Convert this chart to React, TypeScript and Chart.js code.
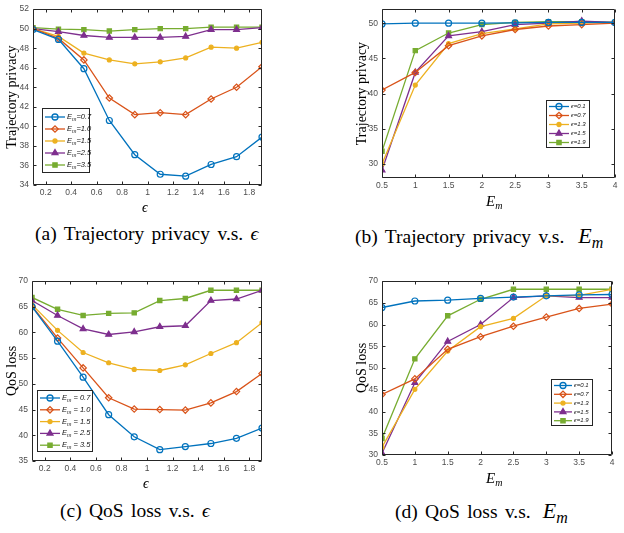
import React, { useEffect, useRef } from 'react';
import { Chart, registerables } from 'chart.js';
import { drawPoint } from 'chart.js/helpers';
Chart.register(...registerables);

// ---------------- data ----------------
const epsilonValues = [0.1, 0.3, 0.5, 0.7, 0.9, 1.1, 1.3, 1.5, 1.7, 1.9];
const emValues = [0.5, 1, 1.5, 2, 2.5, 3, 3.5, 4];

const emSeriesNames = ['0.7', '1.0', '1.5', '2.5', '3.5'];
const epsSeriesNames = ['0.1', '0.7', '1.3', '1.5', '1.9'];

const epsTicks = [0.2, 0.4, 0.6, 0.8, 1, 1.2, 1.4, 1.6, 1.8];
const epsTickLabels = ['0.2', '0.4', '0.6', '0.8', '1', '1.2', '1.4', '1.6', '1.8'];
const emTicks = [0.5, 1, 1.5, 2, 2.5, 3, 3.5, 4];
const emTickLabels = ['0.5', '1', '1.5', '2', '2.5', '3', '3.5', '4'];

const privacyTicksA = [34, 36, 38, 40, 42, 44, 46, 48, 50, 52];
const privacyTicksB = [30, 35, 40, 45, 50];
const qosTicksC = [35, 40, 45, 50, 55, 60, 65, 70];
const qosTicksD = [30, 35, 40, 45, 50, 55, 60, 65, 70];

// (a) Trajectory privacy vs epsilon
const privEpsEm07 = [49.9, 48.9, 45.9, 40.6, 37.1, 35.1, 34.9, 36.1, 36.9, 38.9];
const privEpsEm10 = [50.0, 49.0, 46.8, 42.9, 41.2, 41.4, 41.2, 42.8, 44.0, 46.1];
const privEpsEm15 = [50.0, 49.2, 47.5, 46.8, 46.4, 46.6, 47.0, 48.1, 48.0, 48.6];
const privEpsEm25 = [50.0, 49.7, 49.3, 49.1, 49.1, 49.1, 49.2, 49.9, 49.9, 50.1];
const privEpsEm35 = [50.1, 49.95, 49.9, 49.75, 49.9, 50.0, 50.0, 50.15, 50.15, 50.15];
// (b) Trajectory privacy vs E_m
const privEmEps01 = [49.9, 50.0, 50.0, 50.0, 50.05, 50.1, 50.1, 50.1];
const privEmEps07 = [40.5, 43.0, 46.8, 48.2, 49.1, 49.6, 49.8, 50.0];
const privEmEps13 = [30.0, 41.2, 47.1, 48.5, 49.2, 49.9, 50.0, 50.1];
const privEmEps15 = [29.1, 43.0, 48.2, 48.8, 49.8, 50.0, 50.3, 50.1];
const privEmEps19 = [31.8, 46.1, 48.6, 49.8, 50.1, 50.2, 50.2, 50.1];
// (c) QoS loss vs epsilon
const qosEpsEm07 = [65.0, 58.3, 51.3, 44.0, 39.7, 37.2, 37.8, 38.4, 39.4, 41.4];
const qosEpsEm10 = [65.1, 58.9, 53.1, 47.3, 45.1, 45.0, 44.9, 46.3, 48.5, 52.0];
const qosEpsEm15 = [65.4, 60.4, 56.1, 54.1, 52.8, 52.6, 53.7, 55.9, 58.0, 61.9];
const qosEpsEm25 = [66.2, 63.3, 60.7, 59.6, 60.1, 61.1, 61.3, 66.2, 66.5, 68.2];
const qosEpsEm35 = [66.8, 64.5, 63.3, 63.7, 63.8, 66.2, 66.6, 68.2, 68.2, 68.2];
// (d) QoS loss vs E_m
const qosEmEps01 = [63.9, 65.4, 65.6, 66.0, 66.3, 66.6, 66.8, 66.9];
const qosEmEps07 = [43.9, 47.5, 54.3, 57.2, 59.6, 61.7, 63.7, 64.7];
const qosEmEps13 = [31.8, 45.1, 53.9, 59.5, 61.4, 66.6, 66.7, 68.1];
const qosEmEps15 = [30.4, 46.6, 56.1, 60.0, 66.2, 66.6, 66.2, 66.2];
const qosEmEps19 = [33.8, 52.1, 62.0, 65.8, 68.1, 68.1, 68.1, 68.1];

// ---------------- styles ----------------
const seriesColors = ['#0072BD', '#D95319', '#EDB120', '#7E2F8E', '#77AC30'];
const seriesMarkers = ['circle', 'rectRot', 'circle', 'triangle', 'rect'];
const seriesRadius = [3, 3.2, 2, 3.4, 3];
const seriesFilled = [false, false, true, true, true];

const SANS = 'Liberation Sans, Arial, sans-serif';
const SERIF = 'Liberation Serif, Times New Roman, serif';

type LegendSpec = {
  x: number; y: number; w: number; h: number;
  firstY: number; rowH: number;
  lineX0: number; lineX1: number; textX: number;
  fontSize: number;
  sym: string; sub: string; sep: string; names: string[];
  symFont: string;
};

type PanelSpec = {
  left: number; top: number; width: number; height: number;
  padLeft: number; padTop: number; padRight: number;
  yWidth: number; xHeight: number;
  xs: number[]; xMin: number; xMax: number; xTicks: number[]; xTickLabels: string[];
  yMin: number; yMax: number; yTicks: number[];
  yTitle: string;
  series: number[][];
  legend: LegendSpec;
};

function makeFramePlugin(spec: PanelSpec) {
  return {
    id: 'matlabFrame',
    afterDraw(chart: any) {
      const { ctx, chartArea: a, scales } = chart;
      ctx.save();
      ctx.strokeStyle = '#262626';
      ctx.lineWidth = 1;
      const L = Math.round(a.left) + 0.5, R = Math.round(a.right) - 0.5;
      const T = Math.round(a.top) + 0.5, B = Math.round(a.bottom) - 0.5;
      ctx.beginPath();
      ctx.rect(L, T, R - L, B - T);
      ctx.stroke();
      const tl = 3;
      ctx.beginPath();
      scales.x.ticks.forEach((t: any) => {
        const px = Math.round(scales.x.getPixelForValue(t.value)) + 0.5;
        ctx.moveTo(px, B); ctx.lineTo(px, B - tl);
        ctx.moveTo(px, T); ctx.lineTo(px, T + tl);
      });
      scales.y.ticks.forEach((t: any) => {
        const py = Math.round(scales.y.getPixelForValue(t.value)) + 0.5;
        ctx.moveTo(L, py); ctx.lineTo(L + tl, py);
        ctx.moveTo(R, py); ctx.lineTo(R - tl, py);
      });
      ctx.stroke();

      // legend
      const lg = spec.legend;
      ctx.fillStyle = '#ffffff';
      ctx.fillRect(lg.x, lg.y, lg.w, lg.h);
      ctx.strokeStyle = '#262626';
      ctx.lineWidth = 1;
      ctx.strokeRect(lg.x + 0.5, lg.y + 0.5, lg.w - 1, lg.h - 1);
      lg.names.forEach((name, i) => {
        const cy = lg.y + lg.firstY + i * lg.rowH;
        const col = seriesColors[i];
        ctx.strokeStyle = col;
        ctx.lineWidth = 1.3;
        ctx.beginPath();
        ctx.moveTo(lg.x + lg.lineX0, cy);
        ctx.lineTo(lg.x + lg.lineX1, cy);
        ctx.stroke();
        ctx.fillStyle = seriesFilled[i] ? col : 'rgba(0,0,0,0)';
        drawPoint(ctx, { pointStyle: seriesMarkers[i], radius: seriesRadius[i], rotation: 0, borderWidth: 1.2 } as any,
          lg.x + (lg.lineX0 + lg.lineX1) / 2, cy);
        ctx.fillStyle = '#111';
        ctx.textBaseline = 'middle';
        ctx.textAlign = 'left';
        let tx = lg.x + lg.textX;
        ctx.font = `italic ${lg.fontSize}px ${lg.symFont}`;
        ctx.fillText(lg.sym, tx, cy);
        tx += ctx.measureText(lg.sym).width;
        if (lg.sub) {
          ctx.font = `italic ${lg.fontSize * 0.7}px ${lg.symFont}`;
          ctx.fillText(lg.sub, tx, cy + lg.fontSize * 0.35);
          tx += ctx.measureText(lg.sub).width;
        }
        ctx.font = `italic ${lg.fontSize}px ${lg.symFont}`;
        ctx.fillText(lg.sep + name, tx, cy);
      });
      ctx.restore();
    },
  };
}

function Panel({ spec }: { spec: PanelSpec }) {
  const ref = useRef<HTMLCanvasElement | null>(null);
  useEffect(() => {
    if (!ref.current) return;
    const datasets = spec.series.map((vals, i) => ({
      label: spec.legend.names[i],
      data: vals.map((v, j) => ({ x: spec.xs[j], y: v })),
      borderColor: seriesColors[i],
      backgroundColor: seriesFilled[i] ? seriesColors[i] : 'rgba(0,0,0,0)',
      borderWidth: 1.3,
      pointStyle: seriesMarkers[i],
      pointRadius: seriesRadius[i],
      pointBorderWidth: 1.2,
      pointBorderColor: seriesColors[i],
      pointBackgroundColor: seriesFilled[i] ? seriesColors[i] : 'rgba(0,0,0,0)',
      tension: 0,
      fill: false,
    }));
    const chart = new Chart(ref.current, {
      type: 'line',
      data: { datasets },
      options: {
        animation: false,
        responsive: false,
        devicePixelRatio: 1,
        layout: { padding: { left: spec.padLeft, top: spec.padTop, right: spec.padRight, bottom: 0 } },
        plugins: { legend: { display: false }, tooltip: { enabled: false } },
        scales: {
          x: {
            type: 'linear',
            min: spec.xMin,
            max: spec.xMax,
            grid: { display: false, drawTicks: false },
            border: { display: false },
            ticks: {
              font: { family: SANS, size: 8.5 },
              color: '#4d4d4d',
              padding: 3,
              maxRotation: 0,
              autoSkip: false,
              callback: (_v: any, idx: number) => spec.xTickLabels[idx],
            },
            afterBuildTicks: (s: any) => { s.ticks = spec.xTicks.map((v) => ({ value: v })); },
            afterFit: (s: any) => { s.height = spec.xHeight; },
          },
          y: {
            type: 'linear',
            min: spec.yMin,
            max: spec.yMax,
            grid: { display: false, drawTicks: false },
            border: { display: false },
            ticks: {
              font: { family: SANS, size: 8.5 },
              color: '#4d4d4d',
              padding: 4,
              autoSkip: false,
            },
            afterBuildTicks: (s: any) => { s.ticks = spec.yTicks.map((v) => ({ value: v })); },
            afterFit: (s: any) => { s.width = spec.yWidth; },
            title: {
              display: true,
              text: spec.yTitle,
              color: '#000',
              font: { family: SERIF, size: 14 },
              padding: { top: 4, bottom: 0 },
            },
          },
        },
      },
      plugins: [makeFramePlugin(spec)],
    } as any);
    return () => chart.destroy();
  }, [spec]);
  return (
    <canvas
      ref={ref}
      width={spec.width}
      height={spec.height}
      style={{ position: 'absolute', left: spec.left, top: spec.top, width: spec.width, height: spec.height }}
    />
  );
}

const emLegend = (x: number, y: number, w: number, h: number, firstY: number, rowH: number, l0: number, l1: number, tx: number, fs: number, sep: string): LegendSpec => ({
  x, y, w, h, firstY, rowH, lineX0: l0, lineX1: l1, textX: tx, fontSize: fs,
  sym: 'E', sub: 'm', sep, names: emSeriesNames, symFont: SANS,
});
const epsLegend = (x: number, y: number, w: number, h: number, firstY: number, rowH: number, l0: number, l1: number, tx: number, fs: number): LegendSpec => ({
  x, y, w, h, firstY, rowH, lineX0: l0, lineX1: l1, textX: tx, fontSize: fs,
  sym: '\u03F5', sub: '', sep: '=', names: epsSeriesNames, symFont: SANS,
});

const panelA: PanelSpec = {
  left: 0, top: 0, width: 310, height: 220,
  padLeft: 0, padTop: 5, padRight: 48, yWidth: 33, xHeight: 35,
  xs: epsilonValues, xMin: 0.1, xMax: 1.9, xTicks: epsTicks, xTickLabels: epsTickLabels,
  yMin: 34, yMax: 52, yTicks: privacyTicksA, yTitle: 'Trajectory privacy',
  series: [privEpsEm07, privEpsEm10, privEpsEm15, privEpsEm25, privEpsEm35],
  legend: emLegend(42, 108, 48, 65, 9, 12, 3, 23, 25, 7.5, '='),
};
const panelB: PanelSpec = {
  left: 310, top: 0, width: 314, height: 220,
  padLeft: 40, padTop: 5, padRight: 9, yWidth: 32, xHeight: 42,
  xs: emValues, xMin: 0.5, xMax: 4, xTicks: emTicks, xTickLabels: emTickLabels,
  yMin: 28, yMax: 52, yTicks: privacyTicksB, yTitle: 'Trajectory privacy',
  series: [privEmEps01, privEmEps07, privEmEps13, privEmEps15, privEmEps19],
  legend: epsLegend(236, 100, 44, 48, 6.5, 9, 3, 23, 25, 6),
};
const panelC: PanelSpec = {
  left: 0, top: 265, width: 310, height: 230,
  padLeft: 0, padTop: 16, padRight: 48, yWidth: 32, xHeight: 34,
  xs: epsilonValues, xMin: 0.1, xMax: 1.9, xTicks: epsTicks, xTickLabels: epsTickLabels,
  yMin: 35, yMax: 70, yTicks: qosTicksC, yTitle: 'QoS loss',
  series: [qosEpsEm07, qosEpsEm10, qosEpsEm15, qosEpsEm25, qosEpsEm35],
  legend: emLegend(37, 125, 56, 62, 8, 11.8, 3, 23, 25, 7.5, ' = '),
};
const panelD: PanelSpec = {
  left: 310, top: 265, width: 314, height: 230,
  padLeft: 40, padTop: 16, padRight: 12, yWidth: 32, xHeight: 40,
  xs: emValues, xMin: 0.5, xMax: 4, xTicks: emTicks, xTickLabels: emTickLabels,
  yMin: 30, yMax: 70, yTicks: qosTicksD, yTitle: 'QoS loss',
  series: [qosEmEps01, qosEmEps07, qosEmEps13, qosEmEps15, qosEmEps19],
  legend: epsLegend(241, 114, 42, 47, 6.5, 8.8, 3, 21, 23, 6),
};

const textBase: React.CSSProperties = {
  position: 'absolute', fontFamily: SERIF, color: '#000', whiteSpace: 'nowrap', lineHeight: 1,
};

function Em({ size, subSize, gap }: { size: number; subSize: number; gap: number }) {
  return (
    <i style={{ fontSize: size, marginLeft: gap }}>E<span style={{ fontSize: subSize, position: 'relative', top: size * 0.22 }}>m</span></i>
  );
}

export default function App() {
  return (
    <div style={{ position: 'absolute', left: 0, top: 0, width: 624, height: 533, background: '#fff', overflow: 'hidden' }}>
      <Panel spec={panelA} />
      <Panel spec={panelB} />
      <Panel spec={panelC} />
      <Panel spec={panelD} />

      {/* x-axis titles */}
      <div style={{ ...textBase, left: 142, top: 201, fontSize: 14 }}><i>{'\u03F5'}</i></div>
      <div style={{ ...textBase, left: 486, top: 193 }}><Em size={15} subSize={10} gap={0} /></div>
      <div style={{ ...textBase, left: 143, top: 477, fontSize: 14 }}><i>{'\u03F5'}</i></div>
      <div style={{ ...textBase, left: 486, top: 470 }}><Em size={15} subSize={10} gap={0} /></div>

      {/* captions */}
      <div style={{ ...textBase, left: 35, top: 224, fontSize: 19.5, wordSpacing: 2.5 }}>(a) Trajectory privacy v.s. <i>{'\u03F5'}</i></div>
      <div style={{ ...textBase, left: 355, top: 225, fontSize: 19.5, wordSpacing: 2.5 }}>(b) Trajectory privacy v.s.<Em size={22} subSize={16} gap={14} /></div>
      <div style={{ ...textBase, left: 60, top: 501, fontSize: 19.5, wordSpacing: 2.5 }}>(c) QoS loss v.s. <i>{'\u03F5'}</i></div>
      <div style={{ ...textBase, left: 395, top: 500, fontSize: 19.5, wordSpacing: 2.5 }}>(d) QoS loss v.s.<Em size={22} subSize={16} gap={12} /></div>
    </div>
  );
}
